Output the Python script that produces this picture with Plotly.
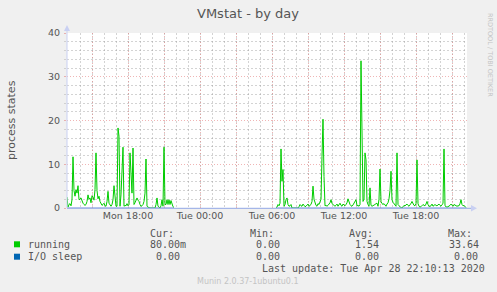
import pandas as pd
import plotly.graph_objects as go

# ---------------- data ----------------
# 5-minute samples of "running" (process states)
seg1_start = "2020-04-27 12:55"
seg1_running = [
    2.5, 0.2, 0.8, 1.0, 0.5, 1.9, 11.7, 4.0, 2.7, 4.2, 3.4, 5.1,
    1.9, 2.0, 2.3, 1.5, 1.1, 0.8, 0.6, 0.8, 1.5, 3.0, 2.0, 2.3,
    1.2, 2.8, 2.5, 1.8, 4.2, 12.6, 4.0, 2.1, 2.7, 1.5, 0.8, 0.6,
    0.8, 1.1, 0.5, 0.4, 1.5, 3.8, 1.1, 0.6, 0.4, 0.8, 1.9, 5.1,
    1.5, 0.4, 0.4, 18.3, 16.4, 0.4, 3.0, 9.1, 13.9, 0.4, 0.6, 0.5,
    1.0, 0.5, 0.8, 12.6, 6.0, 3.4, 13.7, 0.8, 1.2, 1.9, 2.3, 1.8,
    1.5, 0.8, 0.4, 0.5, 0.8, 1.5, 3.4, 11.2, 0.4, 0.2, 0, 0,
    0, 0, 0, 0, 0, 0.8, 2.3, 0.4, 0.2, 0, 0.5, 1.9,
    0.4, 13.9, 0.8, 0.8, 1.9, 0.8, 1.9, 0.8, 1.7, 0.8, 0.3, 0.1,
]
seg2_start = "2020-04-28 06:20"
seg2_running = [
    0.1, 0.2, 0.8, 0.5, 1.1, 13.5, 6.1, 8.8, 0.4, 0.8, 1.9, 2.3,
    0.8, 0.4, 0.5, 0.8, 0, 0, 0, 0, 0, 0, 0, 0.3,
    0.8, 0.5, 0.4, 0.9, 0.5, 0.3, 0.4, 0.6, 0.9, 0.4, 0.6, 0.8,
    1.5, 5.0, 2.0, 1.1, 0.6, 0.4, 1.0, 0.8, 1.5, 2.0, 11.8, 20.3,
    7.2, 0.5, 0.6, 0.4, 0.6, 0.9, 1.2, 1.9, 1.0, 0.8, 0.5, 0.4,
    0.6, 0.9, 0.4, 0.8, 1.1, 0.6, 0.4, 0.9, 0.6, 0.5, 0.8, 1.2,
    2.1, 1.2, 0.8, 0.5, 0.4, 0.7, 1.1, 1.5, 1.9, 0.5, 0.6, 0.4,
    0.8, 33.64, 8.0, 1.5, 2.0, 12.6, 11.0, 1.5, 0.8, 0.4, 4.6, 0.6,
    0.4, 0.5, 0.7, 0.8, 1.0, 1.1, 0.4, 2.0, 8.9, 1.5, 1.0, 0.8,
    1.0, 0.6, 0.4, 0.9, 1.2, 2.1, 4.0, 8.4, 1.9, 1.3, 1.0, 0.8,
    0.4, 12.6, 0.8, 0.5, 0.2, 0.1, 0, 0.4, 0.6, 0.5, 0.7, 0.9,
    0.6, 0.4, 0.8, 1.0, 1.5, 0.8, 0.6, 0.5, 1.0, 11.0, 1.0, 0.4,
    0.2, 0.3, 0.5, 0.8, 0.6, 0.5, 0.9, 1.5, 0.8, 0.4, 0.4, 0.5,
    0.9, 0.4, 0.6, 0.8, 0.6, 0.5, 0.7, 0.9, 0.6, 0.4, 0.8, 1.0,
    13.5, 0.5, 0.3, 0.2, 0.3, 0.4, 0.6, 0.9, 0.6, 0.4, 0.8, 0.6,
    0.5, 0.4, 0.5, 0.5, 1.0, 1.9, 0.8, 0.5, 0.6, 0.4, 0.08,
]
seg1_io = [0.0] * len(seg1_running)
seg2_io = [0.0] * len(seg2_running)

series_names = ["running", "I/O sleep"]
series_colors = ["#00cc00", "#0066b3"]
stat_headers = ["Cur:", "Min:", "Avg:", "Max:"]
running_stats = ["80.00m", "0.00", "1.54", "33.64"]
io_stats = ["0.00", "0.00", "0.00", "0.00"]
last_update = "Last update: Tue Apr 28 22:10:13 2020"

x_start = "2020-04-27 12:55"
x_end = "2020-04-28 22:15"
tick_times = pd.date_range("2020-04-27 15:00", "2020-04-28 21:00", freq="3h")

# ---------------- build ----------------
def seg_times(start, n):
    return list(pd.date_range(start, periods=n, freq="5min"))

t1 = seg_times(seg1_start, len(seg1_running))
t2 = seg_times(seg2_start, len(seg2_running))
x_all = t1 + [t1[-1] + pd.Timedelta(minutes=5)] + t2
run_all = seg1_running + [None] + seg2_running
io_all = seg1_io + [None] + seg2_io

W, H = 497, 292
L, R, T, B = 67, 467, 33, 208

def px(x):
    return (x - L) / (R - L)

def py(y):
    return (B - y) / (B - T)

fig = go.Figure()
fig.add_trace(go.Scatter(x=x_all, y=run_all, mode="lines", name=series_names[0],
                         line=dict(color=series_colors[0], width=1), connectgaps=False,
                         hoverinfo="skip"))
fig.add_trace(go.Scatter(x=x_all, y=io_all, mode="lines", name=series_names[1],
                         line=dict(color="#7f98dc", width=1.2), connectgaps=False,
                         hoverinfo="skip"))

txt = "#555555"
mgrid = "rgba(228,120,120,0.55)"
grid = "rgba(150,150,150,0.42)"

tick_text = [t.strftime("%a %H:%M") if t.hour % 6 == 0 else "" for t in tick_times]

fig.update_layout(
    width=W, height=H,
    margin=dict(l=L, r=W - R, t=T, b=H - B),
    paper_bgcolor="#f0f0f0", plot_bgcolor="#ffffff",
    showlegend=False,
    font=dict(family="DejaVu Sans", color=txt, size=9.5),
    xaxis=dict(
        type="date", range=[x_start, x_end],
        tickmode="array", tickvals=list(tick_times), ticktext=tick_text,
        showgrid=True, gridcolor=mgrid, griddash="1px,2px", gridwidth=1,
        minor=dict(dtick=3600000, tick0="2020-04-27 00:00", showgrid=True,
                   gridcolor=grid, griddash="2px,2px", gridwidth=1),
        ticks="", showline=False, zeroline=False,
        tickfont=dict(size=9.5, color=txt),
    ),
    yaxis=dict(
        range=[0, 40], tickmode="linear", tick0=0, dtick=10,
        showgrid=True, gridcolor=mgrid, griddash="1px,2px", gridwidth=1,
        minor=dict(dtick=2, showgrid=True, gridcolor=grid, griddash="2px,2px",
                   ticks="outside", ticklen=2, tickcolor="#d0d0d0"),
        ticks="outside", ticklen=2, tickcolor="#e8b0b0",
        showline=False, zeroline=False,
        tickfont=dict(size=9.5, color=txt),
        ticklabelstandoff=2,
    ),
)

shapes = []
# left axis with arrow
shapes.append(dict(type="line", xref="paper", yref="paper", x0=px(67), x1=px(67),
                   y0=py(208), y1=py(29), line=dict(color="#c9d0f2", width=1)))
shapes.append(dict(type="path", xref="paper", yref="paper",
                   path=f"M {px(64)} {py(31)} L {px(70)} {py(31)} L {px(67)} {py(25)} Z",
                   fillcolor="#c9d0f2", line=dict(width=0)))
# bottom axis with arrow
shapes.append(dict(type="line", xref="paper", yref="paper", x0=px(67), x1=px(472),
                   y0=py(208.3), y1=py(208.3), line=dict(color="#93a8e6", width=1),
                   layer="below"))
shapes.append(dict(type="path", xref="paper", yref="paper",
                   path=f"M {px(471)} {py(205)} L {px(471)} {py(211.5)} L {px(477)} {py(208.3)} Z",
                   fillcolor="#c9d0f2", line=dict(width=0)))
# legend squares
for i, c in enumerate(series_colors):
    yc = [244.3, 256.7][i]
    shapes.append(dict(type="rect", xref="paper", yref="paper",
                       x0=px(14), x1=px(20), y0=py(yc + 3), y1=py(yc - 3),
                       fillcolor=c, line=dict(width=0)))
fig.update_layout(shapes=shapes)

ann = []
def add_text(s, x, y, size=10, color=txt, family="DejaVu Sans Mono", anchor="left", angle=0):
    ann.append(dict(text=s, x=px(x), y=py(y), xref="paper", yref="paper",
                    xanchor=anchor, yanchor="middle", showarrow=False,
                    font=dict(size=size, color=color, family=family),
                    textangle=angle, borderpad=0))

add_text("VMstat - by day", 248, 13.5, size=13, family="DejaVu Sans", anchor="center")
add_text("process states", 11, 120, size=11, family="DejaVu Sans", anchor="center", angle=-90)
add_text("RRDTOOL / TOBI OETIKER", 490, 55, size=6.5, color="#c4c4c4",
         family="DejaVu Sans", anchor="center", angle=90)

header_x = [149, 249, 348, 447]
for h, x in zip(stat_headers, header_x):
    add_text(h, x, 233.3)
add_text(series_names[0], 26.5, 244.3)
add_text(series_names[1], 26.5, 256.7)
run_x = [149, 255, 354, 448]
io_x = [155, 255, 354, 453]
for s, x in zip(running_stats, run_x):
    add_text(s, x, 244.3)
for s, x in zip(io_stats, io_x):
    add_text(s, x, 256.7)
add_text(last_update, 261, 268.7)
add_text("Munin 2.0.37-1ubuntu0.1", 248, 281, size=8, color="#c4c4c4",
         family="DejaVu Sans", anchor="center")
fig.update_layout(annotations=ann)

fig.write_html("out.html", include_plotlyjs=True, config={"displayModeBar": False})
